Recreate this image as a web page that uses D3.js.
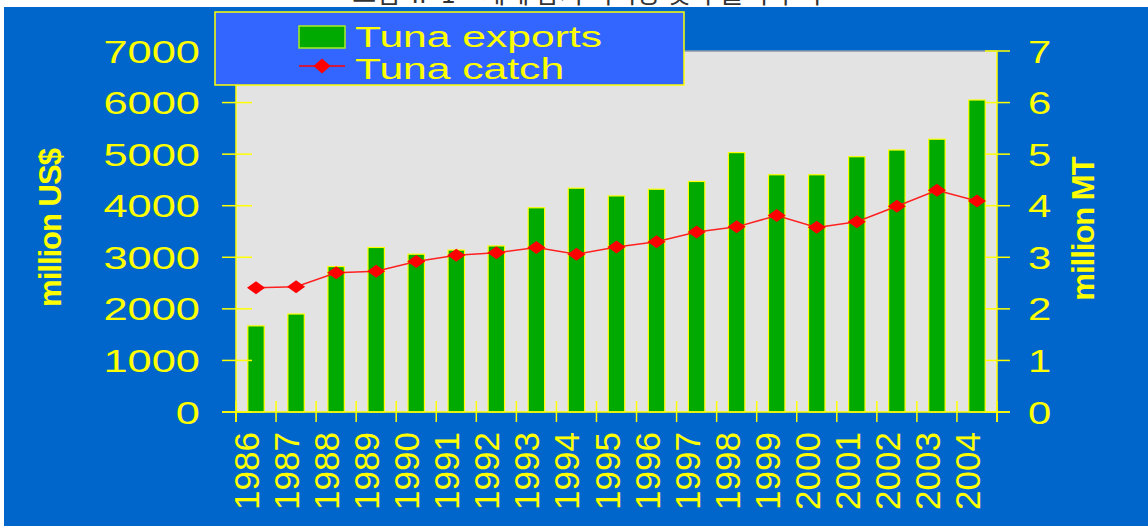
<!DOCTYPE html>
<html lang="en">
<head>
  <meta charset="UTF-8">
  <title>Tuna exports and catch</title>
  <script src="https://d3js.org/d3.v7.min.js"></script>
  <style>
    body, html {
      margin: 0;
      padding: 0;
      overflow: hidden;
      background: #fff;
    }
    svg {
      display: block;
    }
    text {
      font-family: "Liberation Sans", Arial, sans-serif;
      fill: #ffff00;
    }
  </style>
</head>
<body>
  <svg></svg>
  <script>
    // Data
    const years = ['1986', '1987', '1988', '1989', '1990', '1991', '1992', '1993', '1994', '1995',
                   '1996', '1997', '1998', '1999', '2000', '2001', '2002', '2003', '2004'];
    // Tuna exports, million US$
    const exports = [1670, 1900, 2820, 3190, 3060, 3140, 3220, 3960, 4340, 4190,
                     4320, 4470, 5030, 4600, 4600, 4950, 5080, 5290, 6050];
    // Tuna catch, million MT
    const catchMT = [2.41, 2.43, 2.70, 2.73, 2.92, 3.04, 3.09, 3.19, 3.06, 3.20,
                     3.30, 3.49, 3.59, 3.81, 3.58, 3.69, 3.99, 4.30, 4.09];
    const leftTicks = [0, 1000, 2000, 3000, 4000, 5000, 6000, 7000];
    const rightTicks = [0, 1, 2, 3, 4, 5, 6, 7];
    const seriesNames = ['Tuna exports', 'Tuna catch'];

    const width = 1148, height = 526;
    const plot = { left: 236, right: 997, top: 51, bottom: 412 };

    const svg = d3.select('svg').attr('width', width).attr('height', height);

    // caption strip at the very top (cut off by the slide, as in the source)
    svg.append('text')
      .attr('x', 587).attr('y', 3)
      .attr('text-anchor', 'middle')
      .style('font-family', '"Noto Sans CJK KR", sans-serif')
      .style('font-size', '26px')
      .style('fill', '#333')
      .text('< 그림 Ⅱ-1 > 세계 참치 어획량 및 수출액 추이 >');

    // blue slide background
    svg.append('rect')
      .attr('x', 4).attr('y', 7)
      .attr('width', width - 4).attr('height', height - 7)
      .attr('fill', '#0066cc');

    const x = d3.scaleBand().domain(years).range([plot.left, plot.right]).paddingInner(0.59).paddingOuter(0.295);
    const yL = d3.scaleLinear().domain([0, 7000]).range([plot.bottom, plot.top]);
    const yR = d3.scaleLinear().domain([0, 7]).range([plot.bottom, plot.top]);
    const band = (plot.right - plot.left) / years.length;
    const center = d => x(d) + x.bandwidth() / 2;

    // plot area
    svg.append('rect')
      .attr('x', plot.left).attr('y', plot.top)
      .attr('width', plot.right - plot.left).attr('height', plot.bottom - plot.top)
      .attr('fill', '#e3e3e3');
    svg.append('line')
      .attr('x1', plot.left).attr('x2', plot.right)
      .attr('y1', plot.top).attr('y2', plot.top)
      .attr('stroke', '#8a9aa8').attr('stroke-width', 1.5);

    // bars
    svg.append('g').selectAll('rect')
      .data(years)
      .join('rect')
      .attr('x', d => x(d))
      .attr('y', (d, i) => yL(exports[i]))
      .attr('width', x.bandwidth())
      .attr('height', (d, i) => plot.bottom - yL(exports[i]))
      .attr('fill', '#00aa00')
      .attr('stroke', '#ffff00')
      .attr('stroke-width', 1.2);

    // catch line
    const line = d3.line()
      .x((d, i) => center(years[i]))
      .y(d => yR(d));
    svg.append('path')
      .datum(catchMT)
      .attr('d', line)
      .attr('fill', 'none')
      .attr('stroke', '#ff2020')
      .attr('stroke-width', 1.5);

    const diamond = (cx, cy, w, h) =>
      `M${cx - w / 2},${cy}L${cx},${cy - h / 2}L${cx + w / 2},${cy}L${cx},${cy + h / 2}Z`;
    svg.append('g').selectAll('path')
      .data(catchMT)
      .join('path')
      .attr('d', (d, i) => diamond(center(years[i]), yR(d), 18, 13))
      .attr('fill', '#ff0000');

    // axes lines
    const axisG = svg.append('g').attr('stroke', '#ffff00').attr('stroke-width', 1.5);
    axisG.append('line').attr('x1', plot.left).attr('x2', plot.left).attr('y1', plot.top).attr('y2', plot.bottom + 10);
    axisG.append('line').attr('x1', plot.right).attr('x2', plot.right).attr('y1', plot.top).attr('y2', plot.bottom + 10);
    axisG.append('line').attr('x1', 222).attr('x2', 1010).attr('y1', plot.bottom).attr('y2', plot.bottom);

    axisG.selectAll('.tl').data(leftTicks).join('line')
      .attr('x1', 222).attr('x2', 252)
      .attr('y1', d => yL(d)).attr('y2', d => yL(d));
    axisG.selectAll('.tr').data(rightTicks).join('line')
      .attr('x1', 985).attr('x2', 1010)
      .attr('y1', d => yR(d)).attr('y2', d => yR(d));
    axisG.selectAll('.tb').data(d3.range(years.length + 1)).join('line')
      .attr('x1', i => plot.left + i * band).attr('x2', i => plot.left + i * band)
      .attr('y1', plot.bottom - 11).attr('y2', plot.bottom + 10);

    // tick labels
    svg.append('g').selectAll('text')
      .data(leftTicks)
      .join('text')
      .attr('transform', d => `translate(200,${yL(d) + 11.5}) scale(1.4,1)`)
      .attr('text-anchor', 'end')
      .style('font-size', '31px')
      .text(d => d);

    svg.append('g').selectAll('text')
      .data(rightTicks)
      .join('text')
      .attr('transform', d => `translate(1028,${yR(d) + 11.5}) scale(1.35,1)`)
      .style('font-size', '31px')
      .text(d => d);

    svg.append('g').selectAll('text')
      .data(years)
      .join('text')
      .attr('transform', d => `translate(${center(d) + 3},432) rotate(-90)`)
      .attr('text-anchor', 'end')
      .style('font-size', '35px')
      .text(d => d);

    // axis titles
    svg.append('text')
      .attr('transform', 'translate(61,228) rotate(-90)')
      .attr('text-anchor', 'middle')
      .style('font-size', '31px')
      .style('font-weight', 'bold')
      .style('letter-spacing', '-1px')
      .text('million US$');
    svg.append('text')
      .attr('transform', 'translate(1094,229) rotate(-90)')
      .attr('text-anchor', 'middle')
      .style('font-size', '31px')
      .style('font-weight', 'bold')
      .style('letter-spacing', '-1px')
      .text('million MT');

    // legend
    const lg = svg.append('g');
    lg.append('rect')
      .attr('x', 215).attr('y', 12)
      .attr('width', 469).attr('height', 73)
      .attr('fill', '#3366ff')
      .attr('stroke', '#ffff00').attr('stroke-width', 1.5);
    lg.append('rect')
      .attr('x', 299).attr('y', 26)
      .attr('width', 46).attr('height', 22)
      .attr('fill', '#00aa00')
      .attr('stroke', '#aaee22').attr('stroke-width', 1.5);
    lg.append('line')
      .attr('x1', 299).attr('x2', 345).attr('y1', 66).attr('y2', 66)
      .attr('stroke', '#ff0000').attr('stroke-width', 1.5);
    lg.append('path')
      .attr('d', diamond(322, 66, 17, 15))
      .attr('fill', '#ff0000');
    lg.selectAll('.lt').data(seriesNames).join('text')
      .attr('transform', (d, i) => `translate(355,${i === 0 ? 47 : 79}) scale(1.42,1)`)
      .style('font-size', '30px')
      .text(d => d);
  </script>
</body>
</html>
